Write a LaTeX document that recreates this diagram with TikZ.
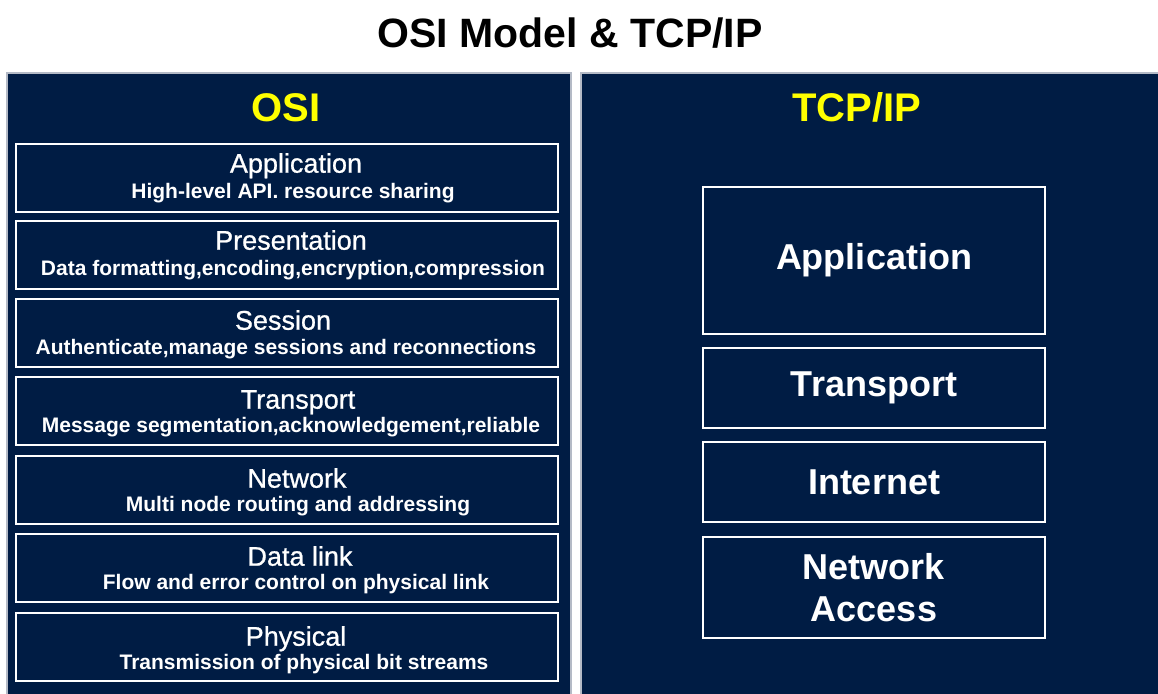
\documentclass[tikz,border=0pt]{standalone}
\usepackage{fontspec}
\setmainfont{Liberation Sans}
\newfontfamily\namefont[FakeBold=0.8]{Liberation Sans}
\usepackage{tikz}
\definecolor{navyblue}{HTML}{001C44}
\definecolor{headyellow}{HTML}{FFFF00}
\definecolor{edgegray}{HTML}{B4BAC6}

\begin{document}
\begin{tikzpicture}[x=0.5pt, y=-0.5pt,
    panel/.style={fill=navyblue, draw=edgegray, line width=0.6pt},
    osibox/.style={draw=white, line width=0.9pt, minimum width=271pt, minimum height=34pt, inner sep=0pt},
    tcpbox/.style={draw=white, line width=0.9pt, minimum width=171pt, inner sep=0pt, text=white,
        font=\fontsize{18}{21}\selectfont\bfseries, align=center},
    osiname/.style={text=white, inner sep=0pt, text height=9.7pt, text depth=0pt,
        font=\namefont\fontsize{13.5}{16}\selectfont},
    osidesc/.style={text=white, inner sep=0pt, text height=7.5pt, text depth=0pt,
        font=\fontsize{10.5}{12}\selectfont\bfseries},
    heading/.style={text=headyellow, inner sep=0pt, text height=14.3pt, text depth=0pt,
        font=\fontsize{20}{24}\selectfont\bfseries}]

\useasboundingbox (0,0) rectangle (1158,693);
\fill[white] (0,0) rectangle (1158,693);
\clip (0,0) rectangle (1158,693);

% Title
\node[inner sep=0pt, text height=14.8pt, text depth=0pt, font=\fontsize{20.5}{24}\selectfont\bfseries] (title) at (570,33) {OSI Model \& TCP/IP};

% Panels
\draw[panel] (7,73) rectangle (571,720);
\draw[panel] (581,73) rectangle (1180,720);
\node[heading] (osihead) at (286,107) {OSI};
\node[heading] (tcphead) at (857,107) {TCP/IP};

% OSI layers
\node[osibox] (app) at (287,178) {};
\node[osiname] (appname) at (296,163) {Application};
\node[osidesc] (appdesc) at (293,191) {High-level API. resource sharing};

\node[osibox] (pres) at (287,255) {};
\node[osiname] (presname) at (291,240) {Presentation};
\node[osidesc] (presdesc) at (293,268) {Data formatting,encoding,encryption,compression};

\node[osibox] (sess) at (287,333) {};
\node[osiname] (sessname) at (283,320) {Session};
\node[osidesc] (sessdesc) at (286,347) {Authenticate,manage sessions and reconnections};

\node[osibox] (trans) at (287,411) {};
\node[osiname] (transname) at (298,399) {Transport};
\node[osidesc] (transdesc) at (291,425) {Message segmentation,acknowledgement,reliable};

\node[osibox] (net) at (287,490) {};
\node[osiname] (netname) at (297,478) {Network};
\node[osidesc] (netdesc) at (298,504) {Multi node routing and addressing};

\node[osibox] (link) at (287,568) {};
\node[osiname] (linkname) at (300,556) {Data link};
\node[osidesc] (linkdesc) at (296,582) {Flow and error control on physical link};

\node[osibox] (phys) at (287,647) {};
\node[osiname] (physname) at (296,636) {Physical};
\node[osidesc] (physdesc) at (304,662) {Transmission of physical bit streams};

% TCP/IP layers
\node[tcpbox, minimum height=73.5pt] (tapp) at (874,260.5) {Application};
\node[tcpbox, minimum height=40pt] (ttrans) at (874,388) {Transport};
\node[tcpbox, minimum height=40pt] (tinet) at (874,482) {Internet};
\node[tcpbox, minimum height=50.5pt] (tacc) at (874,587.5) {Network\\Access};

\end{tikzpicture}
\end{document}
